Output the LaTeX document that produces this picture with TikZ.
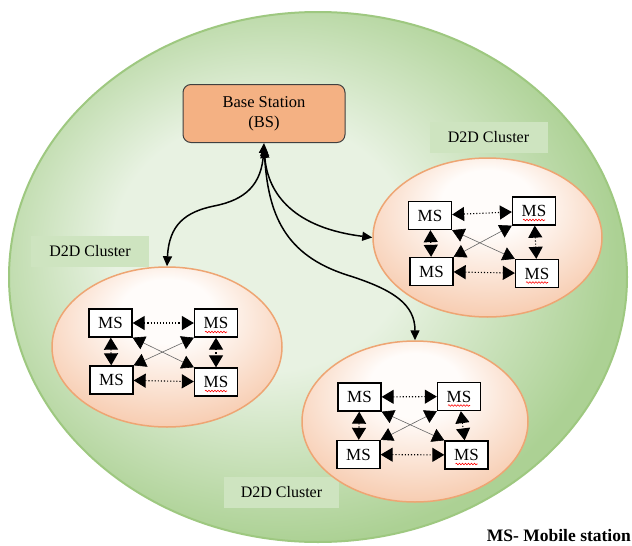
\documentclass[tikz,border=0pt]{standalone}
\usepackage{fontspec}
\setmainfont{Liberation Serif}
\usetikzlibrary{shapes.geometric,arrows.meta,decorations.pathmorphing}
\definecolor{bgin}{RGB}{232,242,226}
\definecolor{bgout}{RGB}{172,209,148}
\definecolor{bgline}{RGB}{158,200,128}
\definecolor{clin}{RGB}{255,252,250}
\definecolor{clout}{RGB}{245,192,158}
\definecolor{clline}{RGB}{238,165,115}
\definecolor{bsfill}{RGB}{244,177,131}
\definecolor{lblfill}{RGB}{206,228,192}
\pgfdeclareradialshading{bigshade}{\pgfpoint{-6bp}{4bp}}{color(0bp)=(bgin); color(12bp)=(bgin); color(27bp)=(bgout); color(50bp)=(bgout)}
\pgfdeclareradialshading{clshade}{\pgfpoint{0bp}{14bp}}{color(0bp)=(clin); color(10bp)=(clin); color(36bp)=(clout); color(50bp)=(clout)}
\tikzset{
  cellnode/.style={ellipse, shade, shading=bigshade, draw=bgline, line width=2pt, inner sep=0pt},
  clus/.style={ellipse, shade, shading=clshade, draw=clline, line width=1.5pt, inner sep=0pt},
  ms/.style={draw=black, line width=1.3pt, fill=white, minimum width=43pt, minimum height=28pt, inner sep=0pt, font=\fontsize{17}{17}\selectfont},
  bsbox/.style={draw=black!75, line width=1pt, fill=bsfill, rounded corners=8pt, minimum width=162pt, minimum height=58pt, align=center, font=\fontsize{16.5}{20}\selectfont},
  lbl/.style={fill=lblfill, font=\fontsize{16}{16}\selectfont, inner sep=0pt, minimum width=118pt, minimum height=31pt},
  link/.style={{Stealth[length=12pt,width=14pt,inset=0pt]}-{Stealth[length=12pt,width=14pt,inset=0pt]}, draw=black, dotted, line width=1.1pt},
  diag/.style={{Stealth[length=12pt,width=14pt,inset=0pt,color=black]}-{Stealth[length=12pt,width=14pt,inset=0pt,color=black]}, draw=black!60, line width=0.6pt},
  mainarrow/.style={{Triangle[length=10pt,width=9pt]}-{Triangle[length=10pt,width=9pt]}, draw=black, line width=1.5pt},
  wavy/.style={draw=red, line width=0.6pt, decorate, decoration={snake, amplitude=0.8pt, segment length=3pt}}
}
\begin{document}
\begin{tikzpicture}[x=1pt,y=-1pt]
\fill[white] (0,0) rectangle (632,546);
\useasboundingbox (0,0) rectangle (632,546);
\node[cellnode, minimum width=618pt, minimum height=530pt] (cell) at (318,277) {};

% labels
\node[lbl] (l1) at (90,251) {D2D Cluster};
\node[lbl] (l2) at (488.5,137.5) {D2D Cluster};
\node[lbl, minimum width=115pt] (l3) at (281.5,492) {D2D Cluster};

% base station
\node[bsbox] (bs) at (264,113.5) {Base Station\\(BS)};

% clusters
\node[clus, minimum width=230pt, minimum height=160pt] (cl1) at (167,347) {};
\node[clus, minimum width=229pt, minimum height=159pt] (cl2) at (487.5,237.5) {};
\node[clus, minimum width=226pt, minimum height=161pt] (cl3) at (415,421.5) {};

% cluster 1 (left)
\node[ms] (a1) at (110.5,323) {MS};
\node[ms] (a2) at (216,323) {MS};
\node[ms] (a3) at (111.5,380) {MS};
\node[ms] (a4) at (216,382) {MS};
% cluster 2 (top right)
\node[ms] (b1) at (430,215.5) {MS};
\node[ms] (b2) at (534,211) {MS};
\node[ms] (b3) at (431.5,271.5) {MS};
\node[ms] (b4) at (537,273.5) {MS};
% cluster 3 (bottom right)
\node[ms] (c1) at (359.5,397) {MS};
\node[ms] (c2) at (459,396.5) {MS};
\node[ms] (c3) at (358.5,454.5) {MS};
\node[ms] (c4) at (466.5,455) {MS};

\foreach \p in {a,b,c}{
  \draw[diag] (\p1.south east) -- (\p4.north west);
  \draw[diag] (\p2.south west) -- (\p3.north east);
  \draw[link] (\p1) -- (\p2);
  \draw[link] (\p3) -- (\p4);
  \draw[link] (\p1) -- (\p3);
  \draw[link] (\p2) -- (\p4);
  \draw[wavy] ([xshift=-11pt,yshift=-9pt]\p2.center) -- ([xshift=11pt,yshift=-9pt]\p2.center);
  \draw[wavy] ([xshift=-11pt,yshift=-9pt]\p4.center) -- ([xshift=11pt,yshift=-9pt]\p4.center);
}

% main connectors
\draw[mainarrow] (bs.south) .. controls (262,185) and (245,200) .. (214,206) .. controls (185,212) and (169,225) .. (cl1.north);
\draw[mainarrow] ([yshift=-5pt]bs.south) .. controls (268,195) and (295,228) .. (cl2.west);
\draw[mainarrow] ([yshift=-3pt]bs.south) .. controls (268,215) and (285,255) .. (347,275) .. controls (395,290) and (415,305) .. (cl3.north);

\node[anchor=east, inner sep=0pt, font=\bfseries\fontsize{17.5}{18}\selectfont] (key) at (631,536) {MS- Mobile station};
\end{tikzpicture}
\end{document}
